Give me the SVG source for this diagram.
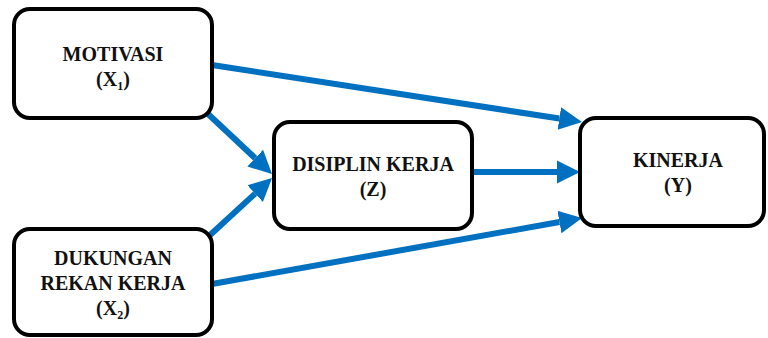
<svg xmlns="http://www.w3.org/2000/svg" width="768" height="338" viewBox="0 0 768 338">
  <style>
    .box { fill: #ffffff; stroke: #000000; stroke-width: 4; }
    .lbl { font-family: "Liberation Serif", "Times New Roman", serif; font-weight: bold; font-size: 20px; fill: #111111; text-anchor: middle; }
    .sub { font-size: 12px; }
    .edge { stroke: #0070C0; stroke-width: 6; fill: none; marker-end: url(#head); }
  </style>
  <defs>
    <marker id="head" markerUnits="userSpaceOnUse" markerWidth="26" markerHeight="26" viewBox="0 -13 26 26" refX="0" refY="0" orient="auto">
      <path d="M0,-11.5 L23,0 L0,11.5 z" fill="#0070C0"/>
    </marker>
  </defs>

  <g id="connectors">
    <line class="edge" x1="212" y1="65" x2="559.3" y2="118.5"/>
    <line class="edge" x1="207" y1="113" x2="255.2" y2="158.2"/>
    <line class="edge" x1="209" y1="236" x2="255.1" y2="193.6"/>
    <line class="edge" x1="212" y1="284" x2="559.4" y2="222.0"/>
    <line class="edge" x1="473" y1="172" x2="557" y2="172"/>
  </g>

  <g id="motivasi">
    <rect class="box" x="14" y="9" width="198" height="109" rx="16"/>
    <text class="lbl" x="113" y="61">MOTIVASI</text>
    <text class="lbl" x="113" y="86">(X<tspan class="sub" dy="4">1</tspan><tspan dy="-4">)</tspan></text>
  </g>

  <g id="dukungan">
    <rect class="box" x="14" y="229" width="198" height="106" rx="16"/>
    <text class="lbl" x="113" y="265">DUKUNGAN</text>
    <text class="lbl" x="113" y="290">REKAN KERJA</text>
    <text class="lbl" x="113" y="315">(X<tspan class="sub" dy="4">2</tspan><tspan dy="-4">)</tspan></text>
  </g>

  <g id="disiplin">
    <rect class="box" x="274" y="122" width="198" height="107" rx="16"/>
    <text class="lbl" x="373" y="171">DISIPLIN KERJA</text>
    <text class="lbl" x="373" y="196">(Z)</text>
  </g>

  <g id="kinerja">
    <rect class="box" x="580" y="118" width="184" height="108" rx="16"/>
    <text class="lbl" x="678" y="167">KINERJA</text>
    <text class="lbl" x="678" y="192">(Y)</text>
  </g>
</svg>
